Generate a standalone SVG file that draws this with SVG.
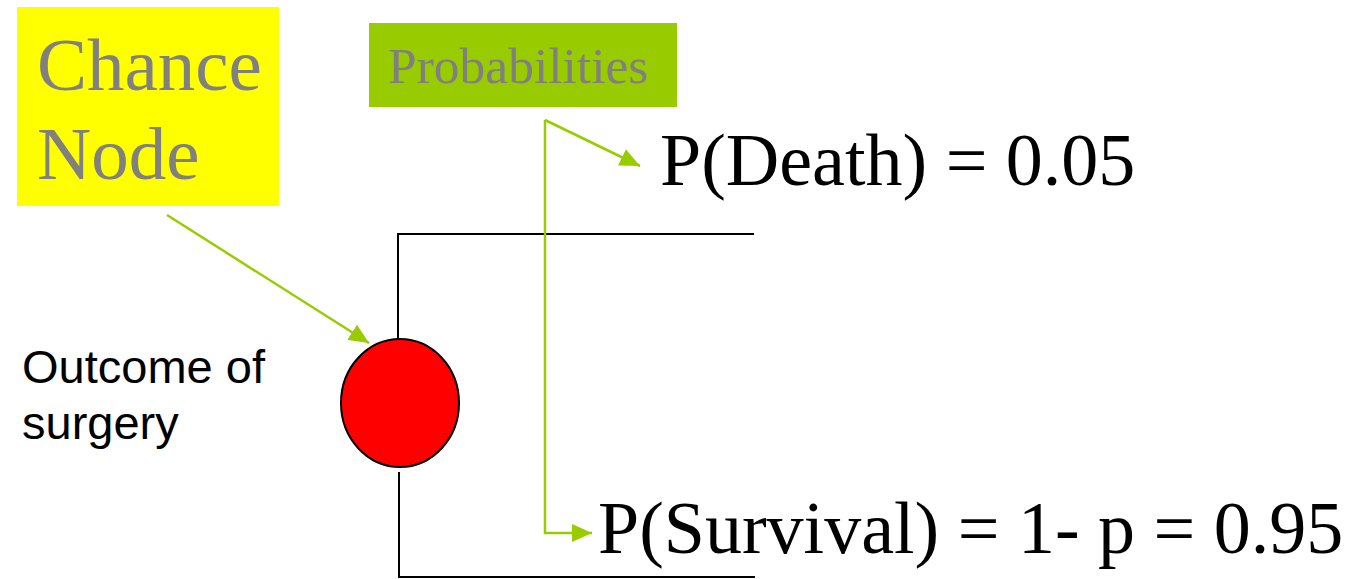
<svg xmlns="http://www.w3.org/2000/svg" width="1370" height="579" viewBox="0 0 1370 579">
<style>
.lbl{font-family:"Liberation Serif","Times New Roman",serif;fill:#808080}
.prob{font-family:"Liberation Serif","Times New Roman",serif;fill:#000;font-size:74px}
.sans{font-family:"Liberation Sans",Arial,sans-serif;fill:#000;font-size:47px}
.gline{fill:none;stroke:#99CC00;stroke-width:2.5}
.bline{fill:none;stroke:#000;stroke-width:2}
</style>
<defs>
<marker id="ah" markerUnits="userSpaceOnUse" markerWidth="20" markerHeight="18" viewBox="0 0 20 18" refX="20" refY="9" orient="auto">
<path d="M0,0 L20,9 L0,18 Z" fill="#99CC00"/>
</marker>
</defs>
<g id="chance-label">
<rect x="17" y="7" width="262" height="199" fill="#FFFF00"/>
<text class="lbl" x="37" y="90" font-size="75">Chance</text>
<text class="lbl" x="37" y="179" font-size="75">Node</text>
</g>
<g id="prob-label">
<rect x="369" y="23" width="308" height="84" fill="#99CC00"/>
<text class="lbl" x="388" y="83" font-size="51.5">Probabilities</text>
</g>
<g id="branches">
<path class="bline" d="M398,340 V234 H754"/>
<path class="bline" d="M399,472 V577 H755"/>
</g>
<g id="chance-node">
<ellipse cx="400" cy="403" rx="59" ry="64" fill="#FF0000" stroke="#000" stroke-width="2"/>
</g>
<g id="outcome">
<text class="sans" x="22" y="383">Outcome of</text>
<text class="sans" x="22" y="439">surgery</text>
</g>
<g id="death">
<text class="prob" x="660" y="185">P(Death) = 0.05</text>
</g>
<g id="survival">
<text class="prob" x="598" y="553">P(Survival) = 1- p = 0.95</text>
</g>
<g id="connectors">
<line class="gline" x1="167" y1="215" x2="369" y2="343" marker-end="url(#ah)"/>
<line class="gline" x1="545" y1="120" x2="640" y2="166" marker-end="url(#ah)"/>
<path class="gline" d="M545,120 V533 H592" marker-end="url(#ah)"/>
</g>
</svg>
